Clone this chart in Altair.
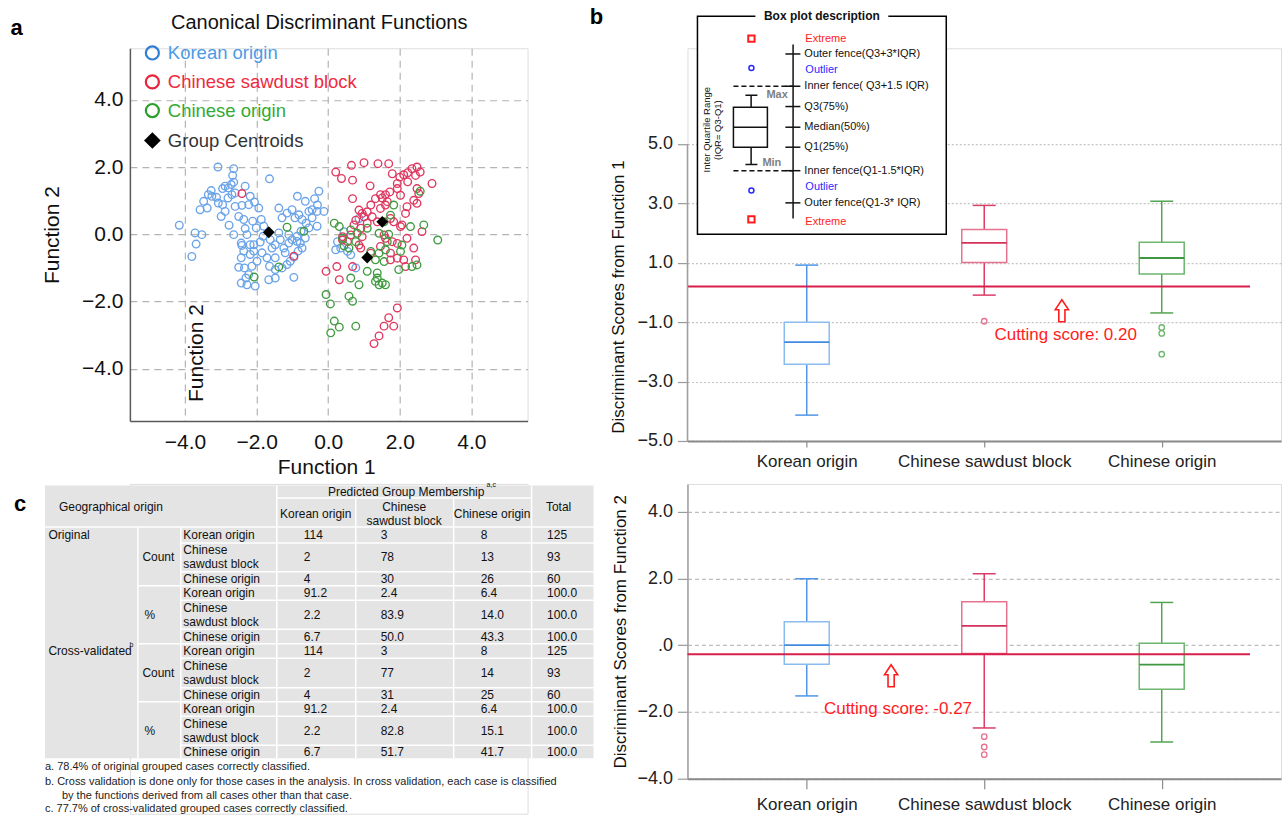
import altair as alt
import pandas as pd

FONT = "Liberation Sans"
GROUPS = ["Korean origin", "Chinese sawdust block", "Chinese origin"]

# ---------------- panel a data: (Function 1, Function 2) ----------------
KOREAN_PTS = [
    (-3.08, 2.00), (-2.64, 1.95), (-2.67, 1.75), (-2.64, 1.55), (-2.71, 1.48), (-2.88, 1.43), (-2.79, 1.38),
    (-2.95, 1.36), (-3.27, 1.30), (-3.35, 1.18), (-3.25, 1.13), (-3.12, 1.10), (-3.48, 0.98), (-3.58, 0.73),
    (-3.38, 0.78), (-3.07, 0.93), (-2.95, 0.88), (-2.80, 1.08), (-2.69, 1.18), (-2.60, 1.23), (-2.32, 1.43),
    (-2.18, 1.13), (-2.06, 0.96), (-1.94, 0.78), (-2.22, 0.88), (-2.41, 0.86), (-2.60, 0.83), (-2.88, 0.68),
    (-2.99, 0.53), (-2.77, 0.27), (-2.64, -0.01), (-2.50, 0.53), (-2.36, 0.44), (-2.32, 0.17), (-2.27, -0.01),
    (-2.43, -0.26), (-2.18, -0.31), (-2.08, -0.50), (-2.36, -0.50), (-2.43, -0.70), (-2.50, -0.98), (-2.34, -1.00),
    (-2.13, -0.95), (-2.22, -1.20), (-2.43, -1.45), (-2.27, -1.50), (-2.04, -1.54), (-2.30, -1.30), (-1.64, 1.65),
    (-2.11, 0.39), (-2.01, 0.19), (-1.87, 0.44), (-1.80, 0.24), (-1.82, -0.06), (-1.90, -0.23), (-1.85, -0.55),
    (-1.71, -0.70), (-1.64, -0.95), (-1.48, -0.70), (-1.38, 0.78), (-1.29, 0.49), (-1.15, 0.63), (-1.01, 0.73),
    (-0.93, 0.49), (-0.82, 0.58), (-0.86, 1.13), (-0.64, 0.98), (-0.54, 0.68), (-0.45, 0.73), (-0.31, 0.68),
    (-0.12, 0.68), (-0.26, 1.28), (-0.38, 1.06), (-0.31, 0.24), (-0.45, 0.49), (-0.54, 0.19), (-0.73, 0.44),
    (-0.76, 0.09), (-0.87, -0.06), (-1.01, -0.16), (-1.10, -0.26), (-1.24, -0.41), (-1.34, -0.16), (-1.48, -0.31),
    (-1.57, -0.41), (-1.62, -0.16), (-1.20, -0.55), (-1.06, -0.80), (-0.96, -0.68), (-1.15, -0.90), (-1.29, -1.00),
    (-1.48, -1.05), (-1.66, -1.35), (-1.48, -1.30), (-0.96, -1.28), (-0.84, -0.50), (-0.87, -0.21), (-0.73, -0.41),
    (-0.64, -0.11), (-0.78, -0.26), (-1.10, -0.01), (-1.38, 0.04), (-4.16, 0.27), (-3.72, 0.04), (-3.53, -0.01),
    (-3.69, -0.29), (-3.81, -0.66), (-2.41, -0.33), (-2.18, -0.60), (-1.99, -0.80), (-2.08, -0.31),
    (0.26, -0.22), (0.21, -0.46), (0.35, -0.41), (0.54, -0.51), (0.63, -0.61), (0.77, -1.00), (0.86, 0.47),
    (0.44, 0.08), (-0.30, 0.87), (-0.62, 0.33),
]
SAWDUST_PTS = [
    (-2.41, 1.21), (-0.96, -0.65),
    (0.21, 1.85), (0.37, 1.66), (0.65, 2.05), (1.00, 2.13), (1.39, 2.10), (1.69, 2.10), (0.68, 1.61), (1.17, 1.44),
    (1.79, 1.80), (1.93, 1.51), (2.00, 1.70), (2.11, 1.77), (2.22, 1.83), (2.34, 1.95), (2.48, 2.00), (2.57, 1.85),
    (2.44, 1.75), (2.22, 1.56), (1.93, 1.36), (1.72, 1.26), (1.60, 1.18), (1.51, 1.08), (1.46, 1.18), (1.32, 1.06),
    (2.02, 1.16), (2.48, 1.36), (2.53, 1.21), (2.90, 1.51), (2.39, 1.01), (2.48, 0.92), (2.20, 0.82), (2.16, 0.62),
    (2.06, 0.28), (1.83, 0.37), (1.74, 0.47), (1.60, 0.87), (1.65, 0.97), (1.46, 0.77), (1.19, 0.87), (1.09, 0.67),
    (1.00, 0.52), (0.86, 0.72), (0.95, 0.62), (1.09, 0.33), (1.23, 0.52), (1.37, 0.37), (0.91, 0.18), (0.77, 0.42),
    (0.68, 1.06), (0.72, 0.28), (0.63, -0.02), (0.40, -0.07), (0.40, -0.17), (0.54, -0.22), (0.95, -0.07),
    (0.86, -0.32), (0.91, -0.41), (1.46, -0.36), (1.60, -0.12), (1.79, -0.22), (1.93, -0.27), (2.02, 0.23),
    (2.20, -0.12), (2.39, -0.41), (2.44, -0.76), (2.11, -0.76), (2.16, -0.96), (1.74, -0.56), (1.93, -0.71),
    (1.74, -0.76), (2.62, 0.08), (-0.06, -1.10), (0.24, -0.96), (0.31, -1.35), (0.68, -0.96), (1.93, -2.19),
    (1.69, -2.48), (1.56, -2.73), (1.83, -2.73), (1.42, -3.02), (1.28, -3.25), (1.19, -0.56), (1.56, -0.02),
]
CHINESE_PTS = [
    (-1.15, 0.21), (-0.68, 0.09), (-1.38, -0.97), (-2.07, -1.27),
    (0.17, 0.33), (0.31, 0.23), (0.63, 0.13), (0.81, 0.03), (0.40, -0.12), (0.77, -0.22), (1.09, 0.18),
    (1.42, 0.03), (1.69, 0.00), (1.65, -0.22), (1.83, 0.87), (1.74, 0.57), (1.56, 0.37), (2.02, -0.51),
    (2.06, -0.32), (2.30, 0.23), (2.67, 0.28), (3.06, -0.17), (2.48, -0.91), (2.34, -0.96), (1.97, -1.05),
    (1.60, -0.46), (1.56, -0.81), (1.42, -0.56), (1.32, -0.76), (1.19, -0.51), (1.09, -1.10), (1.37, -1.15),
    (1.32, -1.40), (1.42, -1.50), (1.51, -1.45), (1.60, -1.50), (1.37, -1.30), (0.63, -1.30), (0.86, -1.50),
    (-0.06, -1.79), (0.06, -2.07), (0.58, -1.84), (0.68, -1.99), (0.17, -2.58), (0.31, -2.76), (0.07, -2.93),
    (0.77, -2.73), (0.44, -0.34), (0.58, -0.41), (2.57, 1.28),
]
CENTROIDS = [(-1.66, 0.06), (1.51, 0.37), (1.09, -0.69)]
TICKS_A = [-4, -2, 0, 2, 4]
LEGEND_A = ["Korean origin", "Chinese sawdust block", "Chinese origin", "Group Centroids"]

# ---------------- panel b data: box plot summaries ----------------
F1_LOW = [-4.13, -0.09, -0.69]
F1_Q1 = [-2.42, 1.01, 0.62]
F1_MED = [-1.67, 1.67, 1.16]
F1_Q3 = [-1.00, 2.12, 1.69]
F1_HIGH = [0.92, 2.93, 3.07]
F1_OUT = [[], [-0.97], [-1.18, -1.38, -2.08]]
F1_CUT = 0.20
F1_TICKS = [-5, -3, -1, 1, 3, 5]

F2_LOW = [-1.52, -2.48, -2.90]
F2_Q1 = [-0.57, -0.25, -1.32]
F2_MED = [0.00, 0.58, -0.58]
F2_Q3 = [0.70, 1.30, 0.06]
F2_HIGH = [1.99, 2.14, 1.28]
F2_OUT = [[], [-2.74, -3.05, -3.28], []]
F2_CUT = -0.27
F2_TICKS = [-4, -2, 0, 2, 4]

# ---------------- panel c data: classification table ----------------
TBL_SECTIONS = ["Original", "Cross-validated"]
TBL_KINDS = ["Count", "%", "Count", "%"]
TBL_ROW_LABELS = [["Korean origin"], ["Chinese", "sawdust block"], ["Chinese origin"]]
TBL_VALUES = [
    ["114", "3", "8", "125"], ["2", "78", "13", "93"], ["4", "30", "26", "60"],
    ["91.2", "2.4", "6.4", "100.0"], ["2.2", "83.9", "14.0", "100.0"], ["6.7", "50.0", "43.3", "100.0"],
    ["114", "3", "8", "125"], ["2", "77", "14", "93"], ["4", "31", "25", "60"],
    ["91.2", "2.4", "6.4", "100.0"], ["2.2", "82.8", "15.1", "100.0"], ["6.7", "51.7", "41.7", "100.0"],
]
FOOTNOTES = [
    "a. 78.4% of original grouped cases correctly classified.",
    "b. Cross validation is done only for those cases in the analysis. In cross validation, each case is classified",
    "by the functions derived from all cases other than that case.",
    "c. 77.7% of cross-validated grouped cases correctly classified.",
]

# ---------------- styles ----------------
PT_COL = ["#6aa3e8", "#e0365f", "#3f9b3f"]
LEG_SYM = ["#2f7fd8", "#e8243c", "#2aa02a"]
LEG_TXT = ["#4b9be6", "#ee2a3e", "#33aa33"]
WHISK = ["#4f97e6", "#da3d65", "#52a452"]
BOXC = ["#8bbcf0", "#e6728f", "#6db66d"]
MEDC = ["#3f8be2", "#d4305a", "#3f973f"]
CUT_COL = "#d91e4b"
RED = "#ff1c1c"
BLUE = "#2a2aff"
INK = "#111111"
ARROW = "M -0.28 1 L -0.28 -0.1 L -0.6 -0.1 L 0 -1 L 0.6 -0.1 L 0.28 -0.1 L 0.28 1 Z"

# ---------------- layout (reference pixel positions) ----------------
A_O = (129, 47); A_W, A_H = 398, 373
B1_O = (687, 47); B_W = 594; B1_H = 393
B2_O = (687, 483); B2_H = 295
C_O = (129, 483); C_W, C_H = 398, 330


def shift(rows, origin, cols):
    df = pd.DataFrame(rows, columns=cols)
    for c in df.columns:
        if c in ("x", "x2"):
            df[c] = df[c] - origin[0]
        if c in ("y", "y2"):
            df[c] = df[c] - origin[1]
    return df


PX = alt.X("x:Q", scale=None, axis=None)
PY = alt.Y("y:Q", scale=None, axis=None)


def texts(rows, origin, **mark):
    m = {"baseline": "middle", "font": FONT}
    m.update(mark)
    df = shift(rows, origin, ["t", "x", "y", "c", "s"])
    return alt.Chart(df).mark_text(**m).encode(
        x=PX, y=PY, text="t:N",
        color=alt.Color("c:N", scale=None, legend=None),
        size=alt.Size("s:Q", scale=None, legend=None),
    )


def rules(rows, origin, color, width, dash=None):
    m = dict(color=color, strokeWidth=width)
    if dash:
        m["strokeDash"] = dash
    df = shift(rows, origin, ["x", "y", "x2", "y2"])
    return alt.Chart(df).mark_rule(**m).encode(x=PX, y=PY, x2=alt.X2("x2:Q"), y2=alt.Y2("y2:Q"))


def rects(rows, origin, **mark):
    df = shift(rows, origin, ["x", "y", "x2", "y2"])
    return alt.Chart(df).mark_rect(**mark).encode(x=PX, y=PY, x2=alt.X2("x2:Q"), y2=alt.Y2("y2:Q"))


def symbols(rows, origin, **mark):
    df = shift(rows, origin, ["x", "y", "c"])
    return alt.Chart(df).mark_point(opacity=1, **mark).encode(
        x=PX, y=PY, color=alt.Color("c:N", scale=None, legend=None))


# ================= panel a: scatter =================
rows = []
for g, pts in zip(GROUPS, [KOREAN_PTS, SAWDUST_PTS, CHINESE_PTS]):
    for f1, f2 in pts:
        rows.append({"grp": g, "f1": f1, "f2": f2})
sc_df = pd.DataFrame(rows)
xsc = alt.Scale(domain=[-5.54, 5.57], nice=False, zero=False)
ysc = alt.Scale(domain=[-5.55, 5.53], nice=False, zero=False)
ax_a = dict(values=TICKS_A, format=".1f", labelFont=FONT, labelFontSize=21, labelColor=INK,
            ticks=False, tickSize=0, grid=True, gridColor="#b4b4b4", gridDash=[7, 5], gridWidth=1.2,
            domainColor="#5a5a5a", domainWidth=1.5, title=None)
pts_layer = alt.Chart(sc_df).mark_point(shape="circle", filled=False, size=58, strokeWidth=1.35, opacity=1).encode(
    x=alt.X("f1:Q", scale=xsc, axis=alt.Axis(labelPadding=11, **ax_a), title=None),
    y=alt.Y("f2:Q", scale=ysc, axis=alt.Axis(labelPadding=7, **ax_a), title=None),
    color=alt.Color("grp:N", scale=alt.Scale(domain=GROUPS, range=PT_COL), legend=None),
)
cent_layer = alt.Chart(pd.DataFrame(CENTROIDS, columns=["f1", "f2"])).mark_point(
    shape="diamond", filled=True, size=140, color="black", opacity=1).encode(
    x=alt.X("f1:Q", title=None), y=alt.Y("f2:Q", title=None))

leg_y = [51.7, 80.7, 109.3, 139.3]
a_ann = [
    rects([(0, 0, 1, 1)], A_O, opacity=0),
    texts([("Canonical Discriminant Functions", 318.5, 21.7, INK, 20)], A_O, align="center"),
    texts([("a", 15.5, 26.7, "#000", 22)], A_O, align="center", fontWeight="bold"),
    texts([("Function 1", 326, 467, INK, 21)], A_O, align="center"),
    texts([("Function 2", 51.7, 234, INK, 21), ("Function 2", 196, 352, INK, 21)], A_O,
          align="center", angle=270),
    symbols([(151.5, leg_y[i], LEG_SYM[i]) for i in range(3)], A_O,
            shape="circle", filled=False, size=170, strokeWidth=2.2),
    symbols([(151.5, leg_y[3], "#000")], A_O, shape="diamond", filled=True, size=280),
    texts([(LEGEND_A[i], 167, leg_y[i], (LEG_TXT + ["#333333"])[i], 18.5) for i in range(4)], A_O,
          align="left"),
]
scatter = alt.layer(alt.layer(pts_layer, cent_layer), *a_ann).resolve_scale(
    x="independent", y="independent").properties(width=A_W, height=A_H)


# ================= panel b: box plots =================
def box_panel(lo, q1, med, q3, hi, outs, cut, ydom, yvals, grid_dash, grid_col,
              domain_line, xtick, xpad, label_expr):
    df = pd.DataFrame({"grp": GROUPS, "lo": lo, "q1": q1, "med": med, "q3": q3, "hi": hi,
                       "wc": WHISK, "bc": BOXC, "mc": MEDC})
    xs = alt.Scale(domain=GROUPS, type="point", padding=0.672)
    ys = alt.Scale(domain=ydom, nice=False, zero=False)
    xax = alt.Axis(title=None, labelAngle=0, labelFont=FONT, labelFontSize=17, labelColor="#222",
                   tickSize=xtick, tickColor="#8c8c8c", tickWidth=1.2, labelPadding=xpad,
                   domainColor="#8a8a8a", domainWidth=2, grid=False)
    yax = alt.Axis(title=None, values=yvals, labelExpr=label_expr, labelFont=FONT, labelFontSize=18,
                   labelColor="#222", tickSize=10, tickColor="#9a9a9a", tickWidth=1.2, labelPadding=5,
                   domain=domain_line, domainColor="#a0a0a0", domainWidth=1.5, grid=True,
                   gridColor=grid_col, gridDash=grid_dash, gridWidth=1.2)
    X = alt.X("grp:N", scale=xs, axis=xax, sort=GROUPS, title=None)
    whisk = alt.Chart(df).mark_rule(strokeWidth=1.5).encode(
        x=X, y=alt.Y("lo:Q", scale=ys, axis=yax, title=None), y2="hi:Q",
        color=alt.Color("wc:N", scale=None, legend=None))
    box = alt.Chart(df).mark_rect(xOffset=-22.5, x2Offset=22.5, fill="white", strokeWidth=1.5).encode(
        x=alt.X("grp:N", title=None), x2=alt.X2("grp"), y=alt.Y("q1:Q", title=None), y2="q3:Q",
        stroke=alt.Stroke("bc:N", scale=None, legend=None))
    medl = alt.Chart(df).mark_rule(xOffset=-22.5, x2Offset=22.5, strokeWidth=1.8).encode(
        x=alt.X("grp:N", title=None), x2=alt.X2("grp"), y=alt.Y("med:Q", title=None),
        color=alt.Color("mc:N", scale=None, legend=None))
    cap_rows = []
    for i, g in enumerate(GROUPS):
        cap_rows += [{"grp": g, "v": lo[i], "wc": WHISK[i]}, {"grp": g, "v": hi[i], "wc": WHISK[i]}]
    caps = alt.Chart(pd.DataFrame(cap_rows)).mark_rule(xOffset=-11.5, x2Offset=11.5, strokeWidth=1.5).encode(
        x=alt.X("grp:N", title=None), x2=alt.X2("grp"), y=alt.Y("v:Q", title=None),
        color=alt.Color("wc:N", scale=None, legend=None))
    out_rows = [{"grp": g, "v": v, "wc": BOXC[i]} for i, g in enumerate(GROUPS) for v in outs[i]]
    outl = alt.Chart(pd.DataFrame(out_rows)).mark_point(shape="circle", filled=False, size=30,
                                                         strokeWidth=1.3, opacity=1).encode(
        x=alt.X("grp:N", title=None), y=alt.Y("v:Q", title=None),
        color=alt.Color("wc:N", scale=None, legend=None))
    cutl = alt.Chart(pd.DataFrame({"cut": [cut]})).mark_rule(color=CUT_COL, strokeWidth=2).encode(
        x=alt.value(0), x2=alt.value(563), y=alt.Y("cut:Q", title=None))
    layers = [whisk, box, medl, caps, outl, cutl]
    if not domain_line:
        yl = alt.Chart(pd.DataFrame({"a": [yvals[0]], "b": [yvals[-1]]})).mark_rule(
            color="#a0a0a0", strokeWidth=1.5).encode(x=alt.value(0), y=alt.Y("a:Q", title=None), y2="b:Q")
        layers.append(yl)
    return alt.layer(*layers)


b1_inner = box_panel(F1_LOW, F1_Q1, F1_MED, F1_Q3, F1_HIGH, F1_OUT, F1_CUT, [-5, 8.219], F1_TICKS,
                     [2, 2], "#c4c4c4", False, 6, 7, "format(datum.value, '.1f')")
inset_labels = [
    ("Extreme", 805, 37.3, RED), ("Outer fence(Q3+3*IQR)", 804, 52.7, INK), ("Outlier", 805, 69, BLUE),
    ("Inner fence( Q3+1.5 IQR)", 804, 85, INK), ("Q3(75%)", 804, 105.3, INK), ("Median(50%)", 804, 126, INK),
    ("Q1(25%)", 804, 146, INK), ("Inner fence(Q1-1.5*IQR)", 804, 169.5, INK), ("Outlier", 805, 185.7, BLUE),
    ("Outer fence(Q1-3* IQR)", 804, 201.7, INK), ("Extreme", 805, 220.7, RED),
]
b1_ann = [
    texts([("Discriminant Scores from Function 1", 618, 296, INK, 17)], B1_O, align="center", angle=270),
    texts([("b", 596, 16, "#000", 22)], B1_O, align="center", fontWeight="bold"),
    symbols([(1061.7, 309.7, RED)], B1_O, shape=ARROW, filled=False, size=484, strokeWidth=1.6),
    texts([("Cutting score: 0.20", 1065.5, 334, RED, 17)], B1_O, align="center"),
    # box plot description inset
    rects([(697, 15, 946, 233)], B1_O, fill="white", stroke="black", strokeWidth=1.5),
    rects([(755, 8, 888, 22)], B1_O, fill="white"),
    texts([("Box plot description", 821.5, 15, INK, 12)], B1_O, align="center", fontWeight="bold"),
    rules([(792.7, 43.3, 792.7, 217.3)] + [(785, y, 800, y) for y in [52.7, 85, 105.3, 126, 146, 169.5, 201.7]]
          + [(750.7, 94, 750.7, 106), (750.7, 146, 750.7, 163.3), (745, 94, 757, 94), (745, 163.3, 757, 163.3)],
          B1_O, "#111", 1.5),
    rules([(733, 85, 792.7, 85), (733, 169.5, 792.7, 169.5)], B1_O, "#111", 1.5, dash=[5, 3]),
    rects([(733, 106, 767, 146)], B1_O, fill="white", stroke="#111", strokeWidth=1.5),
    rules([(733, 126, 767, 126)], B1_O, "#111", 1.5),
    symbols([(751, 37.3, RED), (751, 218.3, RED)], B1_O, shape="square", filled=False, size=40, strokeWidth=2),
    symbols([(751, 66.7, BLUE), (751, 189.3, BLUE)], B1_O, shape="circle", filled=False, size=25,
            strokeWidth=1.5),
    texts([(t, x, y, c, 11) for t, x, y, c in inset_labels], B1_O, align="left"),
    texts([("Max", 766, 94, "#808080", 11), ("Min", 762, 162, "#808080", 11)], B1_O, align="left",
          fontWeight="bold"),
    texts([("Inter Quartile Range", 707, 128.5, INK, 9.5), ("(IQR= Q3-Q1)", 718, 129, INK, 9.5)], B1_O,
          align="center", angle=270),
]
box1 = alt.layer(b1_inner, *b1_ann).resolve_scale(x="independent", y="independent").properties(
    width=B_W, height=B1_H)

b2_inner = box_panel(F2_LOW, F2_Q1, F2_MED, F2_Q3, F2_HIGH, F2_OUT, F2_CUT, [-4, 4.83], F2_TICKS,
                     [4, 3], "#bdbdbd", True, 10, 8,
                     "datum.value == 0 ? '.0' : format(datum.value, '.1f')")
b2_ann = [
    texts([("Discriminant Scores from Function 2", 620, 631, INK, 17)], B2_O, align="center", angle=270),
    symbols([(890.8, 675, RED)], B2_O, shape=ARROW, filled=False, size=484, strokeWidth=1.6),
    texts([("Cutting score: -0.27", 897.7, 708.3, RED, 17)], B2_O, align="center"),
]
box2 = alt.layer(b2_inner, *b2_ann).resolve_scale(x="independent", y="independent").properties(
    width=B_W, height=B2_H)

# ================= panel c: table =================
T_COLX = [44, 137, 180, 276, 355, 453, 531, 593]
T_TOP, T_HMID, T_HBOT = 484.5, 497, 526
T_ROWS = [526, 542, 571, 585, 599.5, 628.5, 643, 657.5, 687, 701, 715.5, 744.5, 757.5]
T_NUM_X = [303, 380, 480, 546.5]
row_c = [(T_ROWS[i] + T_ROWS[i + 1]) / 2 for i in range(12)]

c_lines = [(T_COLX[1], T_HBOT, T_COLX[1], T_ROWS[-1]), (T_COLX[2], T_HBOT, T_COLX[2], T_ROWS[-1]),
           (T_COLX[3], T_TOP, T_COLX[3], T_ROWS[-1]), (T_COLX[4], T_HMID, T_COLX[4], T_ROWS[-1]),
           (T_COLX[5], T_HMID, T_COLX[5], T_ROWS[-1]), (T_COLX[6], T_TOP, T_COLX[6], T_ROWS[-1]),
           (T_COLX[3], T_HMID, T_COLX[6], T_HMID), (T_COLX[0], T_HBOT, T_COLX[7], T_HBOT)]
for i in range(1, 12):
    x0 = T_COLX[1] if i % 3 == 0 else T_COLX[2]
    c_lines.append((x0, T_ROWS[i], T_COLX[7], T_ROWS[i]))

left_rows = [("Geographical origin", 58, 506, INK, 12)]
center_rows = [("Predicted Group Membership", 405.5, 490.7, INK, 12), ("Korean origin", 315, 513, INK, 12),
               ("Chinese", 403.5, 506, INK, 12), ("sawdust block", 403.5, 520, INK, 12),
               ("Chinese origin", 491.5, 513, INK, 12), ("Total", 558, 506, INK, 12)]
left_rows += [(TBL_SECTIONS[0], 47.5, row_c[0], INK, 12), (TBL_SECTIONS[1], 47.5, row_c[6], INK, 12)]
for k in range(4):
    left_rows.append((TBL_KINDS[k], 141.5 if TBL_KINDS[k] == "Count" else 143.5, row_c[3 * k + 1], INK, 12))
for r in range(12):
    lab = TBL_ROW_LABELS[r % 3]
    if len(lab) == 1:
        left_rows.append((lab[0], 182.5, row_c[r], INK, 12))
    else:
        left_rows.append((lab[0], 182.5, row_c[r] - 7, INK, 12))
        left_rows.append((lab[1], 182.5, row_c[r] + 7, INK, 12))
    for j in range(4):
        left_rows.append((TBL_VALUES[r][j], T_NUM_X[j], row_c[r], INK, 12))
sup_rows = [("a,c", 486, 484.5, INK, 7), ("b", 128.5, 644, INK, 7)]
foot_y = [766.7, 781.7, 795, 808.5]
foot_x = [44, 44, 61, 44]
foot_rows = [(FOOTNOTES[i], foot_x[i], foot_y[i], "#222", 11) for i in range(4)]

table = alt.layer(
    rects([(T_COLX[0], T_TOP, T_COLX[7], T_ROWS[-1])], C_O, fill="#e4e4e4"),
    rules(c_lines, C_O, "white", 1.5),
    texts(left_rows, C_O, align="left"),
    texts(center_rows, C_O, align="center"),
    texts(sup_rows, C_O, align="left"),
    texts(foot_rows, C_O, align="left"),
    texts([("c", 19, 503, "#000", 22)], C_O, align="center", fontWeight="bold"),
).properties(width=C_W, height=C_H)

# ================= assemble =================
chart = alt.concat(
    scatter, box1, table, box2, columns=2, bounds="flush",
    spacing={"row": B2_O[1] - B1_O[1] - B1_H, "column": B1_O[0] - A_O[0] - A_W},
).properties(padding=0, background="white").configure_view(stroke=None).configure(font=FONT)

chart.save("out.html", embed_options={"renderer": "svg", "actions": False})
